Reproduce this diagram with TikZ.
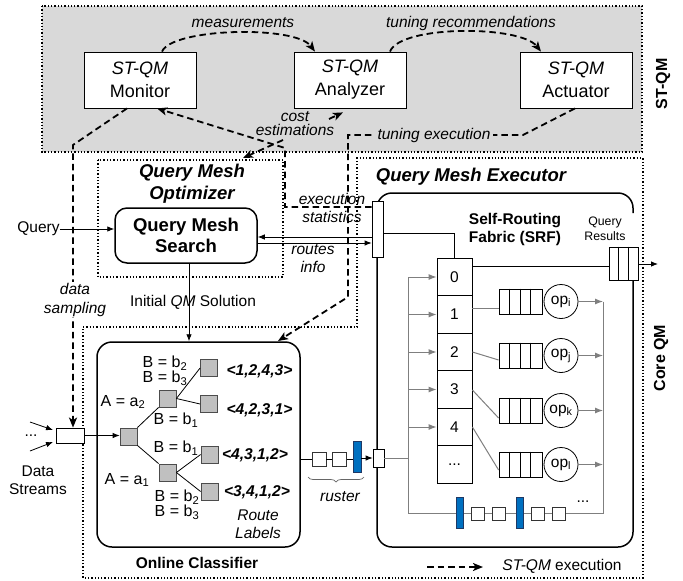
\documentclass[tikz,border=0pt]{standalone}
\usepackage{fontspec}
\setmainfont{Liberation Sans}
\usetikzlibrary{arrows.meta,decorations.pathreplacing,calc}
\definecolor{stqmgray}{HTML}{D9D9D9}
\definecolor{leafgray}{HTML}{C0C0C0}
\definecolor{srfgray}{HTML}{7F7F7F}
\definecolor{qblue}{HTML}{0070C0}
\definecolor{qbluedark}{HTML}{1F3864}
\begin{document}
\begin{tikzpicture}[x=1pt,y=-1pt,
  dotline/.style={line width=1.3pt,dash pattern=on 1.3pt off 2pt},
  dashln/.style={line width=1.8pt,dash pattern=on 6.5pt off 4pt},
  dasharr/.style={dashln,-{Stealth[length=10pt,width=8pt,inset=2.5pt]}},
  arr/.style={line width=0.8pt,-{Latex[length=7pt,width=5.5pt]}},
  garr/.style={draw=srfgray,line width=1pt,-{Latex[length=8pt,width=6pt]}},
  gline/.style={draw=srfgray,line width=1pt},
  tn/.style={font=\fontsize{15.5}{18}\selectfont,inner sep=0pt,align=center},
  ti/.style={font=\fontsize{15.5}{18}\selectfont\itshape,inner sep=0pt,align=center},
  tbig/.style={font=\fontsize{18.5}{22}\selectfont\bfseries\itshape,inner sep=0pt,align=center},
  sbox/.style={draw,fill=white,line width=0.8pt,minimum width=112pt,minimum height=56pt,inner sep=0pt,align=center,font=\fontsize{18}{23}\selectfont},
  treesq/.style={draw=black!70,fill=leafgray,line width=0.8pt,minimum size=17pt,inner sep=0pt},
  lbl/.style={font=\fontsize{16}{15}\selectfont,inner sep=0pt,align=center},
  route/.style={font=\fontsize{15.6}{18}\selectfont\bfseries\itshape,inner sep=0pt},
  srfcell/.style={draw,line width=0.8pt,minimum width=35pt,minimum height=37.5pt,inner sep=0pt,font=\fontsize{15.5}{18}\selectfont},
  qbox/.style={draw,fill=white,line width=0.8pt,minimum width=43pt,minimum height=25pt,inner sep=0pt},
  opc/.style={draw,circle,fill=white,line width=0.8pt,minimum size=34pt,inner sep=0pt,font=\fontsize{15.5}{18}\selectfont},
  smallsq/.style={draw=black!80,fill=white,line width=0.8pt,minimum size=13pt,inner sep=0pt},
  bbar/.style={draw=qbluedark,fill=qblue,line width=0.6pt,minimum width=7pt,minimum height=31pt,inner sep=0pt},
  sidelbl/.style={font=\fontsize{16}{18}\selectfont\bfseries,rotate=90,inner sep=0pt}
]
\useasboundingbox (0,0) rectangle (683,581);

% ---------------- ST-QM region ----------------
\fill[stqmgray] (42,6) rectangle (642,152);
\draw[dotline] (42,6) rectangle (642,152);
\node[sidelbl] (stqm) at (663,84) {ST-QM};
\node[sbox] (mon) at (140,80) {\textit{ST-QM}\\Monitor};
\node[sbox] (ana) at (350,80) {\textit{ST-QM}\\Analyzer};
\node[sbox] (act) at (576,80) {\textit{ST-QM}\\Actuator};
\draw[dasharr] ([xshift=22pt]mon.north) .. controls (172,28) and (295,25) .. ([xshift=-35pt]ana.north);
\draw[dasharr] ([xshift=40pt]ana.north) .. controls (400,25) and (520,25) .. ([xshift=-35pt]act.north);
\node[ti] (meas) at (243,23) {measurements};
\node[ti] (tunrec) at (471,23) {tuning recommendations};

% ---------------- Core QM region ----------------
\draw[dotline] (83,327) -- (357,327) -- (357,158) -- (643,158) -- (643,578) -- (83,578) -- cycle;
\node[sidelbl] (coreqm) at (661,358) {Core QM};

% ---------------- Optimizer ----------------
\draw[dotline] (98,160) rectangle (283,277);
\node[tbig] (opttitle) at (192,184) {Query Mesh\\Optimizer};
\node[draw,line width=1.5pt,rounded corners=12pt,minimum width=142pt,minimum height=55pt,inner sep=0pt,align=center,font=\fontsize{18.5}{21}\selectfont\bfseries] (srch) at (186,235.5) {Query Mesh\\Search};
\node[tn] (qry) at (38.5,229) {Query};
\draw[arr] (qry.east) -- (qry.east -| srch.west);

% ---------------- Executor ----------------
\draw[line width=1.5pt,rounded corners=15pt] (633,213) -- (633,193) -- (377,193) -- (377,547) -- (633,547) -- (633,280);
\node[tbig] (exectitle) at (471,177) {Query Mesh Executor};
\node[font=\fontsize{15.5}{18}\selectfont\bfseries,inner sep=0pt,align=center] (srflbl) at (515,229) {Self-Routing\\Fabric (SRF)};
\node[font=\fontsize{12.3}{15}\selectfont,inner sep=0pt,align=center] (qres) at (605,228.5) {Query\\Results};

% gray routing lines
\draw[gline] (603,301.5) -- (603,513) -- (408,513) -- (408,277);
\foreach \n in {0,1,2,3,4} {
  \node[srfcell] (c\n) at (454.5,{277+37.5*\n}) {\n};
}
\node[srfcell] (c5) at (454.5,464.5) {...};
\foreach \n in {0,1,2,3,4} { \draw[garr] (408,0 |- c\n.west) -- (c\n.west); }

\node[draw,fill=white,line width=0.8pt,minimum width=11pt,minimum height=56pt,inner sep=0pt] (bar) at (377.5,229) {};
\draw[line width=0.8pt] (bar.east |- 0,233) -- (454.5,233) -- (c0.north);

% output queue
\node[draw,fill=white,line width=0.8pt,minimum width=29pt,minimum height=33pt,inner sep=0pt] (outq) at (623.5,263.5) {};
\foreach \d in {1,2} { \draw[line width=0.8pt] ([xshift=\d*9.67pt]outq.north west) -- ([xshift=\d*9.67pt]outq.south west); }
\draw[line width=0.8pt] (c0.east |- 0,266) -- (outq.west |- 0,266);
\draw[arr] (outq.east |- 0,264) -- (658,264);

% operator queues
\foreach \n/\y/\s in {1/301.5/i,2/355.5/j,3/410.5/k,4/464.5/l} {
  \node[qbox] (q\n) at (520.5,\y) {};
  \foreach \d in {1,2,3} { \draw[line width=0.8pt] ([xshift=\d*10.75pt]q\n.north west) -- ([xshift=\d*10.75pt]q\n.south west); }
  \node[opc] (o\n) at (561,\y) {op\textsubscript{\s}};
  \draw[garr] (o\n.east) -- (603,\y);
}
\draw[gline] (c1.east |- 0,308) -- (q1.west |- 0,308);
\draw[gline] (c2.east |- 0,352) -- (q2.west |- 0,360);
\draw[gline] (c3.east |- 0,390) -- (q3.west |- 0,418);
\draw[gline] (c4.east |- 0,427) -- (q4.west |- 0,470);

% bottom recirculation line
\node[bbar] (bb1) at (460,512.5) {};
\node[smallsq] (bs1) at (477.5,513.5) {};
\node[smallsq] (bs2) at (498.5,513.5) {};
\node[bbar] (bb2) at (520,512.5) {};
\node[smallsq] (bs3) at (537.5,513.5) {};
\node[smallsq] (bs4) at (558.5,513.5) {};
\node[tn] (bdots) at (583,502) {...};

% ---------------- Online classifier ----------------
\node[draw,line width=1.5pt,rounded corners=15pt,minimum width=203pt,minimum height=205pt,inner sep=0pt] (clf) at (198.5,444.5) {};
\node[font=\fontsize{15.5}{18}\selectfont\bfseries,inner sep=0pt] (clflbl) at (197,563) {Online Classifier};
\draw[arr] ([xshift=3pt]srch.south) -- ([xshift=3pt]srch.south |- clf.north);
\node[tn] (initqm) at (193,302) {Initial \textit{QM} Solution};

\node[treesq] (r) at (128.5,436.5) {};
\node[treesq] (u) at (167.5,398.5) {};
\node[treesq] (l) at (167.5,472.5) {};
\node[treesq] (lf1) at (209,368) {};
\node[treesq] (lf2) at (209,404) {};
\node[treesq] (lf3) at (209.5,454.5) {};
\node[treesq] (lf4) at (209.5,491.5) {};
\draw[line width=0.8pt] (r.north east) -- (u.south west);
\draw[line width=0.8pt] (r.south east) -- (l.north west);
\draw[line width=0.8pt] (u.east) -- (lf1.west);
\draw[line width=0.8pt] (u.east) -- (lf2.west);
\draw[line width=0.8pt] (l.east) -- (lf3.west);
\draw[line width=0.8pt] (l.east) -- (lf4.west);
\node[lbl] at (123,402) {A = a\textsubscript{2}};
\node[lbl] at (127,480) {A = a\textsubscript{1}};
\node[lbl] at (165,370.5) {B = b\textsubscript{2}\\B = b\textsubscript{3}};
\node[lbl] at (176,420) {B = b\textsubscript{1}};
\node[lbl] at (176,448) {B = b\textsubscript{1}};
\node[lbl] at (177,505) {B = b\textsubscript{2}\\B = b\textsubscript{3}};
\node[route] at (259.5,371) {<1,2,4,3>};
\node[route] at (259.5,410) {<4,2,3,1>};
\node[route] at (255,455) {<4,3,1,2>};
\node[route] at (257,492) {<3,4,1,2>};
\node[ti] at (258,524) {Route\\Labels};

% input
\node[draw,fill=white,line width=0.8pt,minimum width=28pt,minimum height=15pt,inner sep=0pt] (inp) at (70,435.5) {};
\coordinate (s1) at (30,422); \coordinate (s1e) at (53,430);
\coordinate (s2) at (30,451); \coordinate (s2e) at (53,442);
\draw[arr] (s1) -- (s1e);
\draw[arr] (s2) -- (s2e);
\node[tn] (sdots) at (31,436) {...};
\node[tn] (dstr) at (38,480.5) {Data\\Streams};
\draw[arr] (inp.east) -- (inp.east -| r.west);

% ruster
\node[draw,fill=white,line width=0.8pt,minimum width=11pt,minimum height=18pt,inner sep=0pt] (inr) at (378.5,458) {};
\node[smallsq,minimum size=14pt] (r1) at (319,459) {};
\node[smallsq,minimum size=14pt] (r2) at (339.5,459) {};
\node[bbar,minimum width=8pt] (rb) at (357,456.5) {};
\draw[line width=0.8pt] (clf.east |- 0,459) -- (r1.west);
\draw[line width=0.8pt] (r1.east) -- (r2.west);
\draw[line width=0.8pt] (r2.east) -- (rb.west |- r2.east);
\draw[arr] (rb.east |- 0,458) -- (inr.west);
\draw[gline] (inr.east) -- (408,458);
\draw[black!60,line width=0.7pt,decorate,decoration={brace,amplitude=5pt,mirror}] (308,477) -- (364,477);
\node[ti] (rusterlbl) at (340,497) {ruster};

% ---------------- dashed ST-QM connections ----------------
\draw[dasharr] ([xshift=-13pt]mon.south) -- (73,145) -- (73,0 |- inp.north);
\node[font=\fontsize{15.5}{19}\selectfont\itshape,fill=white,inner sep=1pt,align=center] (dsamp) at (75,299.5) {data\\sampling};

\draw[dasharr] (bar.west |- 0,207) -- (285,207) -- (285,148) -- ([xshift=17pt]mon.south);
\node[ti] (exstat) at (332,208) {execution\\statistics};

\coordinate (ce1) at (283,140);
\coordinate (ce2) at (243,158);
\draw[dasharr] (ce1) -- (ce2);
\coordinate (ce3) at (329,119);
\draw[dasharr] (ce3) -- ([xshift=-7pt,yshift=-4pt]ana.south);
\node[font=\fontsize{15.5}{14}\selectfont\itshape,inner sep=0pt,align=center] (costest) at (295,124) {cost\\estimations};

\draw[dasharr] ([xshift=-1pt]act.south) -- (523,135) -- (348,135) -- (348,297) -- (278,341);
\node[ti,fill=stqmgray,inner xsep=3pt,inner ysep=2pt] (tunex) at (434,135) {tuning execution};

\draw[arr] (bar.west |- 0,237) -- (srch.east |- 0,237);
\draw[arr] (srch.east |- 0,243) -- (bar.west |- 0,243);
\node[ti] (rinfo) at (313,259) {routes\\info};

% legend
\coordinate (lg1) at (427,567);
\coordinate (lg2) at (483,567);
\draw[dasharr] (lg1) -- (lg2);
\node[tn] (lgtxt) at (562,566) {\textit{ST-QM} execution};
\end{tikzpicture}
\end{document}
